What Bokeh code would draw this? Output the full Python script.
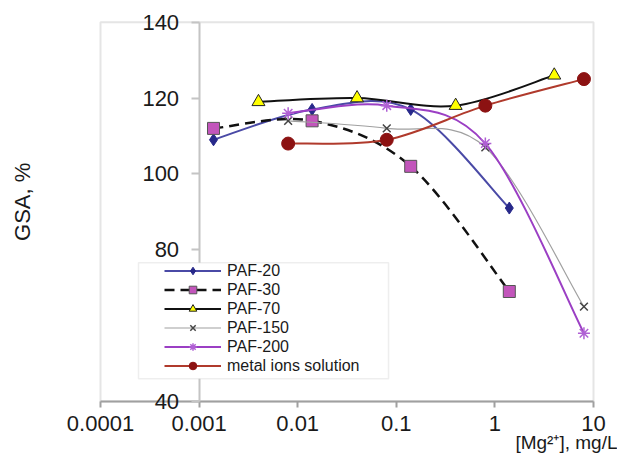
import numpy as np
from bokeh.plotting import figure
from bokeh.models import (FixedTicker, Legend, LegendItem, BoxAnnotation, Label,
                          LogAxis, LinearAxis, ColumnDataSource)
from bokeh.embed import file_html
from bokeh.resources import INLINE

# ---- data: GSA (%) versus Mg2+ concentration (mg/L) ----
x_paf_a = [0.0014, 0.014, 0.14, 1.4]          # PAF-20 / PAF-30 concentrations
x_paf70 = [0.004, 0.04, 0.4, 4]
x_paf_b = [0.008, 0.08, 0.8, 8]               # PAF-150 / PAF-200 / metal ions

paf20 = [109, 117, 117, 91]
paf30 = [112, 114, 102, 69]
paf70 = [119, 120, 118, 126]
paf150 = [114, 112, 107, 65]
paf200 = [116, 118, 108, 58]
metal = [108, 109, 118, 125]

x_ticks = [0.0001, 0.001, 0.01, 0.1, 1, 10]
x_tick_labels = ["0.0001", "0.001", "0.01", "0.1", "1", "10"]
y_ticks = [40, 60, 80, 100, 120, 140]

FONT = "Liberation Sans"
TEXT = "#1a1a1a"

# ---- layout: the axes box (1e-4..10 x 40..140) inside a full-canvas frame ----
W, H = 617, 454
box_l, box_r, box_t, box_b = 100.0, 593.0, 21.7, 401.0      # pixels
x_lo, x_hi, y_lo, y_hi = 1e-4, 10.0, 40.0, 140.0
px_dec = (box_r - box_l) / (np.log10(x_hi) - np.log10(x_lo))
px_unit = (box_b - box_t) / (y_hi - y_lo)
x_range = (10 ** (np.log10(x_lo) - box_l / px_dec),
           10 ** (np.log10(x_hi) + (W - box_r) / px_dec))
y_range = (y_lo - (H - box_b) / px_unit, y_hi + box_t / px_unit)

p = figure(width=W, height=H, x_axis_type="log",
           x_range=x_range, y_range=y_range,
           x_axis_location=None, y_axis_location=None,
           output_backend="svg", toolbar_location=None, min_border=0)
p.xgrid.visible = False
p.ygrid.visible = False
p.outline_line_color = None
p.background_fill_color = "white"

# axes box
p.add_layout(BoxAnnotation(left=x_lo, right=x_hi, bottom=y_lo, top=y_hi,
                           fill_alpha=0.0, line_color="#a8a8a8", line_width=2,
                           level="underlay"))

# x axis along y = 40
xa = LogAxis(fixed_location=y_lo, bounds=(x_lo, x_hi),
             ticker=FixedTicker(ticks=x_ticks, minor_ticks=[]))
xa.major_label_overrides = dict(zip(x_ticks, x_tick_labels))
xa.axis_line_color = "#a0a0a0"
xa.axis_line_width = 2
xa.major_tick_line_color = "#a0a0a0"
xa.major_tick_line_width = 2
xa.major_tick_in = 0
xa.major_tick_out = 6
xa.minor_tick_line_color = None
xa.major_label_standoff = 8
xa.major_label_text_font = FONT
xa.major_label_text_font_size = "22px"
xa.major_label_text_color = TEXT
p.add_layout(xa, "below")

# y axis crossing at x = 0.001
ya = LinearAxis(fixed_location=0.001, bounds=(y_lo, y_hi),
                ticker=FixedTicker(ticks=y_ticks, minor_ticks=[]))
ya.axis_line_color = "#c4c4c4"
ya.axis_line_width = 2
ya.major_tick_line_color = "#c4c4c4"
ya.major_tick_line_width = 2
ya.major_tick_in = 0
ya.major_tick_out = 8
ya.minor_tick_line_color = None
ya.major_label_standoff = 12
ya.major_label_text_font = FONT
ya.major_label_text_font_size = "22px"
ya.major_label_text_color = TEXT
p.add_layout(ya, "left")


def smooth(xs, ys):
    """Cubic Bezier segments through the points (smoothed line, log-x space)."""
    pts = np.column_stack([np.log10(xs), np.asarray(ys, float)])
    n = len(pts)
    seg = {k: [] for k in ("x0", "y0", "x1", "y1", "cx0", "cy0", "cx1", "cy1")}
    for i in range(n - 1):
        a = pts[max(i - 1, 0)]
        b = pts[i]
        c = pts[i + 1]
        d = pts[min(i + 2, n - 1)]
        c1 = b + (c - a) / 6.0
        c2 = c - (d - b) / 6.0
        seg["x0"].append(10 ** b[0]); seg["y0"].append(b[1])
        seg["x1"].append(10 ** c[0]); seg["y1"].append(c[1])
        seg["cx0"].append(10 ** c1[0]); seg["cy0"].append(c1[1])
        seg["cx1"].append(10 ** c2[0]); seg["cy1"].append(c2[1])
    return ColumnDataSource(seg)


series = [
    # label, x, y, line color, width, dash, marker, size, fill, marker line
    ("PAF-20", x_paf_a, paf20, "#4a4aa6", 2, "solid", "diamond", 12, "#27288a", "#27288a"),
    ("PAF-30", x_paf_a, paf30, "#111111", 2.5, "10 6", "square", 12, "#c255bb", "#555555"),
    ("PAF-70", x_paf70, paf70, "#111111", 2, "solid", "triangle", 13, "#ffff00", "#222222"),
    ("PAF-150", x_paf_b, paf150, "#a0a0a0", 1.2, "solid", "x", 11, "#444444", "#444444"),
    ("PAF-200", x_paf_b, paf200, "#9b3fc4", 2, "solid", "asterisk", 12, "#b060d4", "#b060d4"),
    ("metal ions solution", x_paf_b, metal, "#b03a2c", 2, "solid", "circle", 13, "#8c1212", "#8c1212"),
]

items = []
for label, xs, ys, lc, lw, dash, marker, size, fill, mline in series:
    curve = p.bezier(x0="x0", y0="y0", x1="x1", y1="y1",
                     cx0="cx0", cy0="cy0", cx1="cx1", cy1="cy1",
                     source=smooth(xs, ys), line_color=lc, line_width=lw,
                     line_dash=dash)
    pts = p.scatter(x=xs, y=ys, marker=marker, size=size, fill_color=fill,
                    line_color=mline, line_width=1.5 if marker in ("x", "asterisk") else 1)
    items.append(LegendItem(label=label, renderers=[curve, pts]))

# legend frame (drawn over the y axis, hiding the 60 label)
legend_box_left, legend_box_right = 2.43e-4, 0.0834
legend_box_bottom, legend_box_top = 46.0, 76.6
p.add_layout(BoxAnnotation(left=legend_box_left, right=legend_box_right,
                           bottom=legend_box_bottom, top=legend_box_top,
                           fill_color="white", fill_alpha=1.0,
                           line_color="#c8c8c8", line_width=1.5))

legend = Legend(items=items, location=(164, 79), padding=0, margin=0,
                spacing=0, glyph_width=57, glyph_height=19, label_height=19,
                label_standoff=6, border_line_color=None,
                background_fill_alpha=0.0,
                label_text_font=FONT, label_text_font_size="16px",
                label_text_color=TEXT)
p.add_layout(legend)

# axis titles
p.add_layout(Label(x=x_lo, y=(y_lo + y_hi) / 2, text="GSA, %", angle=np.pi / 2,
                   text_align="center", text_baseline="middle",
                   x_offset=-78, y_offset=10,
                   text_font=FONT, text_font_size="22px", text_color=TEXT))
p.add_layout(Label(x=x_hi, y=y_lo, text="[Mg²⁺], mg/L", text_align="right",
                   text_baseline="middle", x_offset=24, y_offset=-41,
                   text_font=FONT, text_font_size="19px", text_color=TEXT))

open("out.html", "w").write(file_html(p, INLINE))
